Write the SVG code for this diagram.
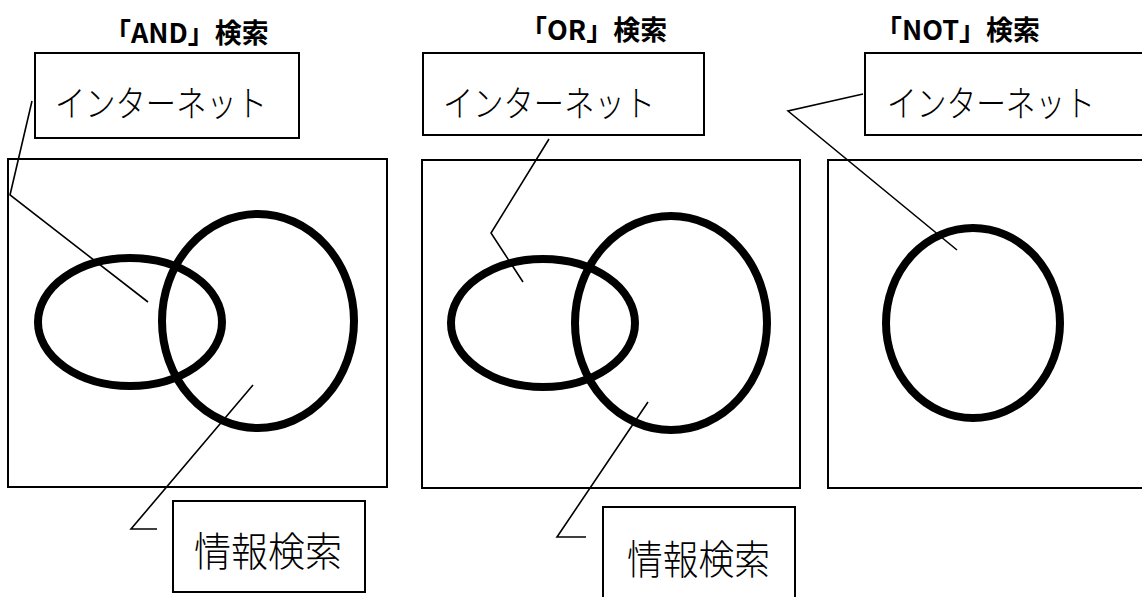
<svg xmlns="http://www.w3.org/2000/svg" width="1142" height="597" viewBox="0 0 1142 597">
<style>
.bg{fill:#fff}
.box{fill:#fff;stroke:#000;stroke-width:2}
.panel{fill:none;stroke:#000;stroke-width:2}
.set{fill:none;stroke:#000;stroke-width:8}
.conn{fill:none;stroke:#000;stroke-width:1.6}
.title{font-family:"Noto Sans CJK JP",sans-serif;font-weight:bold;font-size:27px;fill:#000}
.lbl{font-family:"Noto Sans CJK JP",sans-serif;font-weight:300;fill:#000}
</style>
<rect class="bg" x="0" y="0" width="1142" height="597"/>

<g id="panel-and">
  <text class="title" x="104" y="43">「AND」検索</text>
  <rect class="panel" x="8" y="159" width="379" height="328"/>
  <ellipse class="set" cx="130" cy="322" rx="92" ry="64"/>
  <ellipse class="set" cx="258" cy="321" rx="96" ry="107"/>
</g>
<g id="and-internet">
  <rect class="box" x="35" y="53" width="264" height="85"/>
  <text class="lbl" x="55" y="117" font-size="36" textLength="212" lengthAdjust="spacingAndGlyphs">インターネット</text>
</g>
<g id="and-search">
  <rect class="box" x="173" y="501" width="192" height="91"/>
  <text class="lbl" x="194" y="566" font-size="40" textLength="148" lengthAdjust="spacingAndGlyphs">情報検索</text>
</g>

<g id="panel-or">
  <text class="title" x="520" y="40">「OR」検索</text>
  <rect class="panel" x="422" y="160" width="378" height="328"/>
  <ellipse class="set" cx="543" cy="323" rx="92" ry="64"/>
  <ellipse class="set" cx="671" cy="323" rx="96" ry="107"/>
</g>
<g id="or-internet">
  <rect class="box" x="423" y="53" width="281" height="82"/>
  <text class="lbl" x="443" y="117" font-size="36" textLength="212" lengthAdjust="spacingAndGlyphs">インターネット</text>
</g>
<g id="or-search">
  <rect class="box" x="603" y="507" width="192" height="100"/>
  <text class="lbl" x="627" y="574" font-size="40" textLength="143" lengthAdjust="spacingAndGlyphs">情報検索</text>
</g>

<g id="panel-not">
  <text class="title" x="875" y="40">「NOT」検索</text>
  <rect class="panel" x="828" y="160" width="330" height="328"/>
  <ellipse class="set" cx="973" cy="323" rx="87" ry="95"/>
</g>
<g id="not-internet">
  <rect class="box" x="865" y="53" width="300" height="82"/>
  <text class="lbl" x="887" y="117" font-size="36" textLength="208" lengthAdjust="spacingAndGlyphs">インターネット</text>
</g>

<g id="connectors">
  <polyline class="conn" points="32,101 10,195 148,302"/>
  <polyline class="conn" points="253,385 131,529 157,529"/>
  <polyline class="conn" points="549,139 491,233 523,282"/>
  <polyline class="conn" points="648,402 557,537 586,537"/>
  <polyline class="conn" points="863,94 788,111 957,250"/>
</g>
</svg>
